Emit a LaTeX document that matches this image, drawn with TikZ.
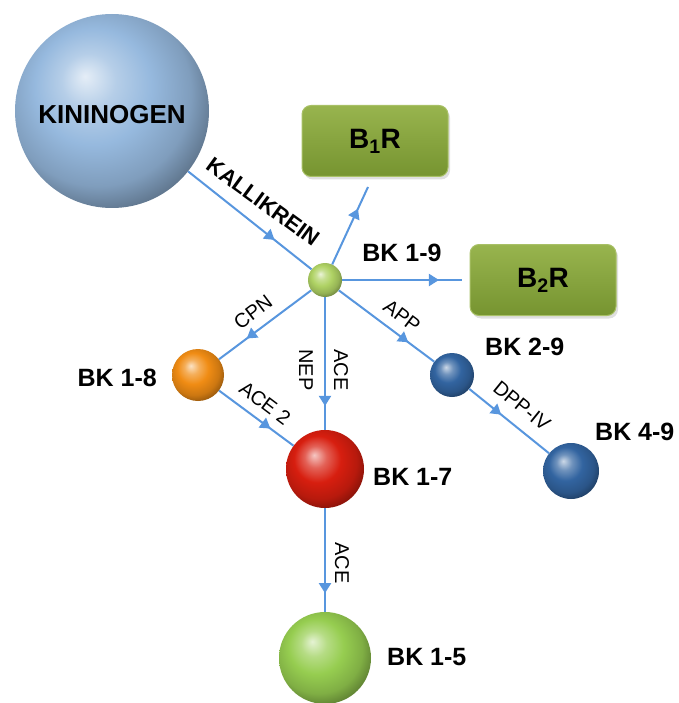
\documentclass[tikz,border=0pt]{standalone}
\usepackage{fontspec}
\setmainfont{Liberation Sans}
\usetikzlibrary{arrows.meta,decorations.markings,shadows}
\definecolor{arrowblue}{RGB}{88,150,222}
\definecolor{kincol}{RGB}{150,185,222}
\definecolor{lgreen}{RGB}{175,210,100}
\definecolor{orangeball}{RGB}{240,140,20}
\definecolor{redball}{RGB}{215,30,15}
\definecolor{blueball}{RGB}{50,100,160}
\definecolor{greenball}{RGB}{150,205,80}
\definecolor{boxtop}{RGB}{152,180,78}
\definecolor{boxbot}{RGB}{118,148,48}
\definecolor{boxedge}{RGB}{168,192,102}
\makeatletter
\pgfdeclareradialshading[tikz@ball]{softball}{\pgfqpoint{-7bp}{9bp}}{%
  color(0bp)=(tikz@ball!25!white);
  color(7bp)=(tikz@ball!70!white);
  color(15bp)=(tikz@ball);
  color(24bp)=(tikz@ball!85!black);
  color(32bp)=(tikz@ball!55!black);
  color(50bp)=(tikz@ball!40!black)}
\makeatother
\tikzset{
  sphere/.style={circle, inner sep=0pt, shade, ball color=#1, shading=softball},
  conn/.style={draw=arrowblue, line width=2pt, postaction={decorate},
    decoration={markings, mark=at position #1 with {\arrow[arrowblue]{Triangle[width=12pt,length=10pt]}}}},
  recbox/.style={rectangle, rounded corners=9pt, minimum width=146pt, minimum height=71pt,
    top color=boxtop, bottom color=boxbot, draw=boxedge, line width=1pt,
    drop shadow={opacity=0.25, shadow xshift=2pt, shadow yshift=-3pt},
    font=\bfseries\fontsize{28}{32}\selectfont},
  biglab/.style={font=\bfseries\fontsize{25}{30}\selectfont, inner sep=0pt},
  enz/.style={font=\fontsize{20}{24}\selectfont, inner sep=0pt}
}
\begin{document}
\begin{tikzpicture}[x=1pt,y=-1pt]
\useasboundingbox (0,0) rectangle (678,703);

% spheres
\node[sphere=kincol, minimum size=194pt] (kin) at (112,111) {};
\node[font=\bfseries\fontsize{26}{30}\selectfont] (kinlab) at (112,115) {KININOGEN};
\node[sphere=lgreen, minimum size=34pt] (bk19) at (325,280) {};
\node[sphere=orangeball, minimum size=52pt] (bk18) at (198,375) {};
\node[sphere=redball, minimum size=78pt] (bk17) at (325,469) {};
\node[sphere=blueball, minimum size=44pt] (bk29) at (452,375) {};
\node[sphere=blueball, minimum size=56pt] (bk49) at (571,471) {};
\node[sphere=greenball, minimum size=92pt] (bk15) at (325,658) {};

% receptor boxes
\node[recbox] (b1r) at (375,141) {B\textsubscript{1}R};
\node[recbox] (b2r) at (543,280) {B\textsubscript{2}R};
\coordinate (b1end) at (368,187);

% connectors
\draw[conn=0.7] (kin) -- (bk19);
\draw[conn=0.72] (bk19) -- (b1end);
\draw[conn=0.76, shorten >=8pt] (bk19) -- (b2r);
\draw[conn=0.7] (bk19) -- (bk18);
\draw[conn=0.82] (bk19) -- (bk17);
\draw[conn=0.73] (bk19) -- (bk29);
\draw[conn=0.69] (bk18) -- (bk17);
\draw[conn=0.4] (bk29) -- (bk49);
\draw[conn=0.82] (bk17) -- (bk15);

% labels
\node[font=\bfseries\fontsize{22}{26}\selectfont, rotate=-36, inner sep=0pt] (kall) at (263,202) {KALLIKREIN};
\node[biglab] (l19) at (402,253) {BK 1-9};
\node[biglab, anchor=east] (l18) at (157,378) {BK 1-8};
\node[biglab, anchor=west] (l17) at (373,477) {BK 1-7};
\node[biglab, anchor=west] (l29) at (485,347) {BK 2-9};
\node[biglab, anchor=west] (l49) at (595,432) {BK 4-9};
\node[biglab, anchor=west] (l15) at (387,657) {BK 1-5};

\node[enz, rotate=37] (cpn) at (253,312) {CPN};
\node[enz, rotate=-90] (nep) at (306,370) {NEP};
\node[enz, rotate=-90] (ace1) at (341,370) {ACE};
\node[enz, rotate=-37] (app) at (402,316) {APP};
\node[enz, rotate=-37] (ace2) at (265,403) {ACE 2};
\node[enz, rotate=-39] (dpp) at (522,406) {DPP-IV};
\node[enz, rotate=-90] (ace3) at (342,563) {ACE};
\end{tikzpicture}
\end{document}
